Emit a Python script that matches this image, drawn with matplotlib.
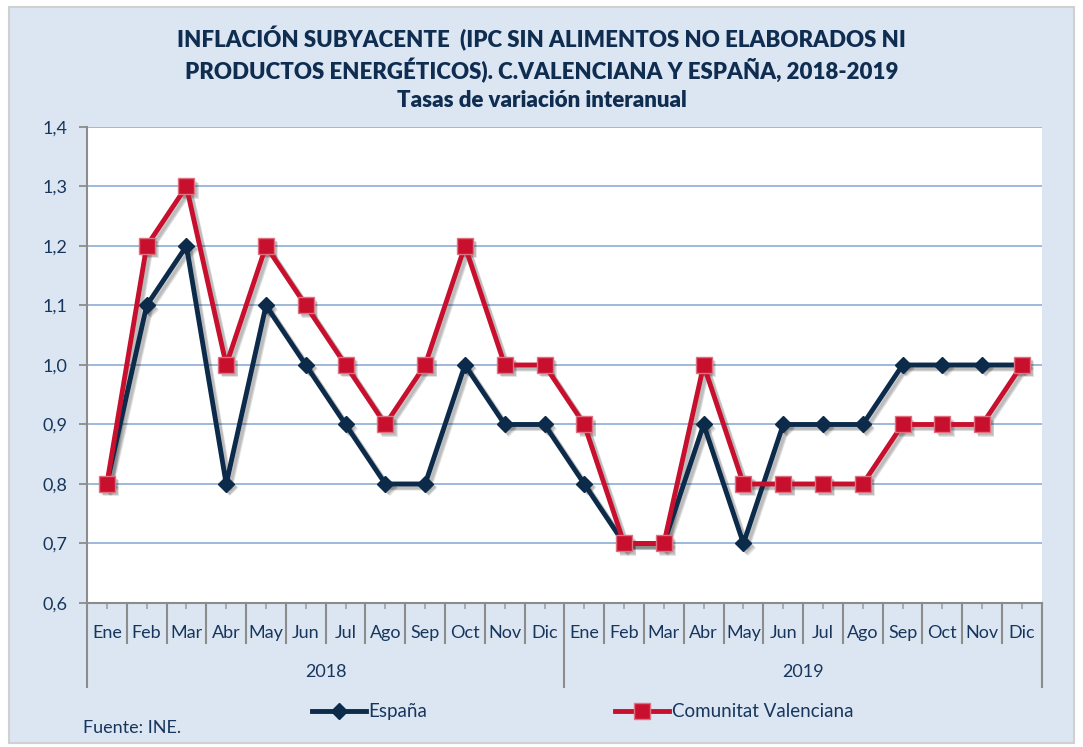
import matplotlib
matplotlib.use("Agg")
import matplotlib.pyplot as plt
import matplotlib.transforms as mtransforms
from matplotlib.lines import Line2D
from matplotlib.patches import Rectangle

plt.rcParams['font.family'] = ['Lato', 'DejaVu Sans']

months = ["Ene", "Feb", "Mar", "Abr", "May", "Jun", "Jul", "Ago", "Sep", "Oct", "Nov", "Dic"]
years = ["2018", "2019"]
espana = [0.8, 1.1, 1.2, 0.8, 1.1, 1.0, 0.9, 0.8, 0.8, 1.0, 0.9, 0.9,
          0.8, 0.7, 0.7, 0.9, 0.7, 0.9, 0.9, 0.9, 1.0, 1.0, 1.0, 1.0]
cv = [0.8, 1.2, 1.3, 1.0, 1.2, 1.1, 1.0, 0.9, 1.0, 1.2, 1.0, 1.0,
      0.9, 0.7, 0.7, 1.0, 0.8, 0.8, 0.8, 0.8, 0.9, 0.9, 0.9, 1.0]
yticks = [0.6, 0.7, 0.8, 0.9, 1.0, 1.1, 1.2, 1.3, 1.4]

BG = "#dce6f2"
NAVY = "#0c2a4a"
RED = "#c8102e"
TXT = "#17365d"
TITLE = "#0f2d50"
GRID = "#95b3d7"

fig = plt.figure(figsize=(10.83, 7.47), dpi=100)
fig.patch.set_facecolor("white")
fig.add_artist(Rectangle((0.008, 0.006), 0.984, 0.984, transform=fig.transFigure,
                         facecolor=BG, edgecolor="#d0d0d0", lw=1.5, zorder=-10))

ax = fig.add_axes([0.0803, 0.1928, 0.8817, 0.6372])
ax.set_facecolor("white")
n = len(espana)
x = list(range(n))

# soft shadows
for dx, dy, a in [(3, -3, 0.10), (2.5, -2.5, 0.10), (2, -2, 0.08)]:
    off = ax.transData + mtransforms.ScaledTranslation(dx / 72, dy / 72, fig.dpi_scale_trans)
    ax.plot(x, espana, color="black", alpha=a, lw=3.5, marker="D", ms=8, mew=0,
            transform=off, zorder=2)
    ax.plot(x, cv, color="black", alpha=a, lw=3.5, marker="s", ms=11, mew=0,
            transform=off, zorder=2)

ax.plot(x, espana, color=NAVY, lw=3.5, marker="D", ms=8, mfc=NAVY, mec=NAVY,
        zorder=3, label="España")
ax.plot(x, cv, color=RED, lw=3.5, marker="s", ms=11, mfc=RED, mec="#e07080", mew=1,
        zorder=4, label="Comunitat Valenciana")

ax.set_xlim(-0.5, n - 0.5)
ax.set_ylim(0.6, 1.4)
ax.set_yticks(yticks)
ax.set_yticklabels([f"{v:.1f}".replace(".", ",") for v in yticks], fontsize=13, color=TXT)
ax.yaxis.grid(True, color=GRID, lw=1.3)
ax.set_axisbelow(True)
for s in ["top", "right"]:
    ax.spines[s].set_visible(False)
ax.spines["left"].set_color("#8c8c8c")
ax.spines["left"].set_linewidth(1.5)
ax.spines["bottom"].set_color("#8c8c8c")
ax.spines["bottom"].set_linewidth(1.5)
ax.tick_params(axis="y", length=6, width=1.3, color="#8c8c8c", pad=8)

ax.set_xticks(x)
ax.set_xticklabels(months * len(years), fontsize=13, color=TXT)
ax.tick_params(axis="x", length=4, width=1.2, color="#a0a0a0", pad=12)

trans = ax.get_xaxis_transform()
for b in range(n + 1):
    xb = b - 0.5
    y1 = -0.176 if b % 12 == 0 else -0.085
    ax.plot([xb, xb], [0, y1], transform=trans, color="#8c8c8c", lw=1.5, clip_on=False)
for i, yr in enumerate(years):
    ax.text(i * 12 + 5.5, -0.145, yr, transform=trans, ha="center", va="center",
            fontsize=13, color=TXT)

tkw = dict(ha="center", va="center", fontsize=16.0, fontweight="heavy", color=TITLE)
fig.text(0.5, 0.949, "INFLACIÓN SUBYACENTE  (IPC SIN ALIMENTOS NO ELABORADOS NI", **tkw)
fig.text(0.5, 0.906, "PRODUCTOS ENERGÉTICOS). C.VALENCIANA Y ESPAÑA, 2018-2019", **tkw)
fig.text(0.5, 0.866, "Tasas de variación interanual", **tkw)

handles = [Line2D([], [], color=NAVY, lw=3.5, marker="D", ms=8),
           Line2D([], [], color=RED, lw=3.5, marker="s", ms=11, mec="#e07080")]
leg = fig.legend(handles, ["España", "Comunitat Valenciana"], loc="center",
                 bbox_to_anchor=(0.538, 0.047), ncol=2, frameon=False, fontsize=13.5,
                 handlelength=2.9, handletextpad=0.15, columnspacing=10.0)
for t in leg.get_texts():
    t.set_color(TXT)

fig.text(0.077, 0.025, "Fuente: INE.", ha="left", va="center", fontsize=13, color=TXT)

fig.savefig("out.png", dpi=100, facecolor=fig.get_facecolor())
